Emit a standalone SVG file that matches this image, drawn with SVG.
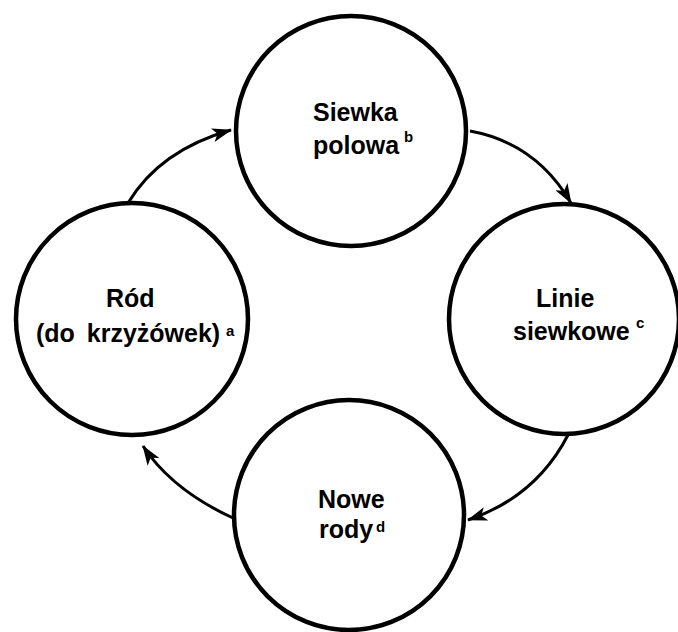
<svg xmlns="http://www.w3.org/2000/svg" width="678" height="632" viewBox="0 0 678 632">
  <style>
    .node circle { fill: #ffffff; stroke: #000000; stroke-width: 4.5; }
    .lbl { font-family: "Liberation Sans", Arial, sans-serif; font-weight: bold; font-size: 25px; fill: #000000; }
    .sup { font-family: "Liberation Sans", Arial, sans-serif; font-weight: bold; font-size: 15px; fill: #000000; }
    .conn path { fill: none; stroke: #000000; stroke-width: 3; marker-end: url(#arrow); }
  </style>
  <defs>
    <marker id="arrow" markerUnits="userSpaceOnUse" viewBox="0 0 20 14" refX="19" refY="7" markerWidth="20" markerHeight="14" orient="auto">
      <path d="M0,0 L20,7 L0,14 L5,7 z" fill="#000000"/>
    </marker>
  </defs>
  <rect width="678" height="632" fill="#ffffff"/>

  <g id="connectors" class="conn">
    <path d="M128,203 Q160,150 231,130"/>
    <path d="M470,131 Q536,143 571,203"/>
    <path d="M568,435 Q536,497 468,520"/>
    <path d="M233,518 Q172,490 143,446"/>
  </g>

  <g id="node-siewka" class="node">
    <circle cx="351" cy="131" r="115"/>
    <text class="lbl" x="313" y="121">Siewka</text>
    <text class="lbl" x="313" y="154">polowa<tspan class="sup" x="404" y="142">b</tspan></text>
  </g>

  <g id="node-linie" class="node">
    <circle cx="564" cy="319" r="115"/>
    <text class="lbl" x="536" y="307">Linie</text>
    <text class="lbl" x="513" y="340">siewkowe<tspan class="sup" x="636" y="328">c</tspan></text>
  </g>

  <g id="node-nowe" class="node">
    <circle cx="349" cy="515" r="115"/>
    <text class="lbl" x="318" y="508">Nowe</text>
    <text class="lbl" x="319" y="538">rody<tspan class="sup" x="376" y="532">d</tspan></text>
  </g>

  <g id="node-rod" class="node">
    <circle cx="132" cy="319" r="116"/>
    <text class="lbl" x="106" y="307">Ród</text>
    <text class="lbl" x="36" y="342" word-spacing="5">(do krzyżówek)<tspan class="sup" x="226" y="336">a</tspan></text>
  </g>
</svg>
